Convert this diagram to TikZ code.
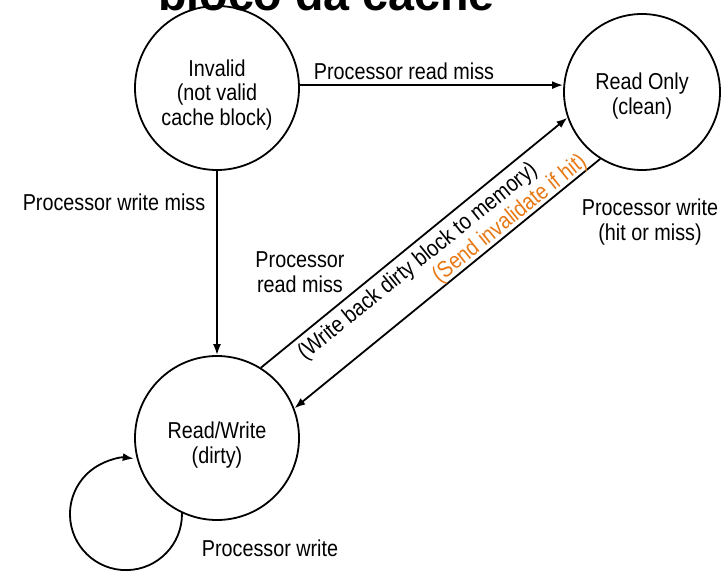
\documentclass[tikz,border=0pt]{standalone}
\usepackage{fontspec}
\setmainfont{Liberation Sans}[FakeStretch=0.86]
\newfontfamily\titlefont{Liberation Sans}
\usetikzlibrary{arrows.meta}
\definecolor{sendorange}{RGB}{232,120,20}
\newcommand{\statetext}[2]{\raisebox{#1}[\height][\depth]{\begin{tabular}{@{}c@{}}#2\end{tabular}}}
\tikzset{
  state/.style={circle, draw, line width=1.8pt, inner sep=0pt},
  conn/.style={line width=1.8pt, -{Latex[length=11pt,width=8pt]}},
  lbl/.style={align=center, inner sep=0pt},
}
\begin{document}
\begin{tikzpicture}[x=1pt,y=1pt,font=\fontsize{23}{24.5}\selectfont]
\useasboundingbox (0,0) rectangle (722,-572);
\node[anchor=base, font=\titlefont\bfseries\fontsize{46.6}{50}\selectfont, inner sep=0pt] (title) at (326.5,-11) {bloco da cache};
\node[state, minimum size=164pt] (inv) at (217,-88) {\statetext{-8pt}{Invalid\\(not valid\\cache block)}};
\node[state, minimum size=156pt] (ro) at (642,-92) {\statetext{-5pt}{Read Only\\(clean)}};
\node[state, minimum size=164pt] (rw) at (217,-438) {\statetext{-8pt}{Read/Write\\(dirty)}};
% connectors
\draw[conn] (inv.2) -- (inv.2 -| ro.west);
\draw[conn] (inv.south) -- (rw.north);
\draw[conn] (rw.58) -- (ro.199.4);
\draw[conn] (ro.238.3) -- (rw.21.2);
\draw[conn] (rw.245) arc[start angle=1, end angle=-278, radius=56];
% labels
\node[lbl] (l1) at (404,-71) {Processor read miss};
\node[lbl] (l2) at (114,-202) {Processor write miss};
\node[lbl] (l3) at (300,-272) {Processor\\read miss};
\node[lbl] (l4) at (650,-222) {Processor write\\(hit or miss)};
\node[lbl] (l5) at (270,-548) {Processor write};
\node[lbl, rotate=38.9] (wb) at (418,-262) {(Write back dirty block to memory)};
\node[lbl, rotate=38.9, text=sendorange] (si) at (510,-219) {(Send invalidate if hit)};
\end{tikzpicture}
\end{document}
